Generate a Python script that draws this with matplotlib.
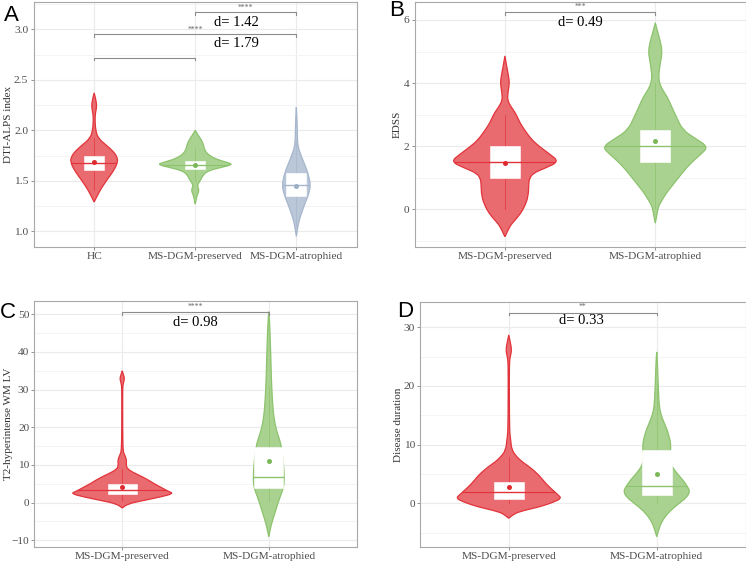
import matplotlib
matplotlib.use('Agg')
import matplotlib.pyplot as plt
import numpy as np
from matplotlib.patches import PathPatch, Rectangle
from matplotlib.path import Path

plt.rcParams['font.family'] = ['Liberation Serif', 'DejaVu Serif']

# ---------------- data ----------------
groups_A = ['HC', 'MS-DGM-preserved', 'MS-DGM-atrophied']
groups_2 = ['MS-DGM-preserved', 'MS-DGM-atrophied']

# Panel A: DTI-ALPS index violins (y levels, half-widths)
A_hc_y = [2.37, 2.31, 2.24, 2.17, 2.10, 2.00, 1.92, 1.85, 1.79, 1.74, 1.69, 1.61, 1.51, 1.41, 1.33, 1.29]
A_hc_w = [0, .015, .027, .012, .008, .015, .04, .124, .19, .225, .235, .2, .127, .06, .02, 0]
A_pr_y = [2.00, 1.95, 1.90, 1.85, 1.80, 1.75, 1.71, 1.68, 1.66, 1.63, 1.60, 1.56, 1.51, 1.46, 1.43, 1.40, 1.36, 1.32, 1.27]
A_pr_w = [0, .03, .064, .084, .094, .139, .218, .325, .37, .245, .129, .079, .055, .02, .03, .037, .02, .01, 0]
A_at_y = [2.23, 2.10, 1.95, 1.84, 1.74, 1.61, 1.53, 1.46, 1.38, 1.31, 1.18, 1.08, 0.95]
A_at_w = [0, .007, .01, .015, .05, .104, .126, .14, .126, .099, .05, .02, 0]
A_q1 = [1.61, 1.62, 1.353]
A_med = [1.68, 1.66, 1.455]
A_q3 = [1.745, 1.70, 1.58]
A_mean = [1.683, 1.66, 1.452]
A_wlo = [1.41, 1.50, 1.05]
A_whi = [1.92, 1.82, 1.90]

# Panel B: EDSS
B_pr_y = [4.86, 4.5, 4.2, 3.99, 3.7, 3.46, 3.25, 3.04, 2.75, 2.51, 2.2, 1.98, 1.75, 1.51, 1.30, 1.14, 0.95, 0.82, 0.40, 0.1, -0.13, -0.35, -0.50, -0.70, -0.87]
B_pr_w = [0, .013, .025, .03, .02, .017, .04, .072, .099, .131, .179, .232, .298, .36, .265, .185, .162, .159, .155, .132, .105, .066, .038, .017, 0]
B_at_y = [5.91, 5.6, 5.3, 5.0, 4.7, 4.3, 4.04, 3.8, 3.57, 3.25, 2.94, 2.51, 2.25, 1.98, 1.75, 1.56, 1.30, 1.03, 0.75, 0.51, 0.25, 0.08, -0.2, -0.44]
B_at_w = [0, .017, .035, .046, .036, .023, .025, .046, .079, .109, .139, .182, .265, .352, .305, .258, .205, .159, .113, .073, .04, .02, .01, 0]
B_q1 = [1.0, 1.5]
B_med = [1.5, 2.0]
B_q3 = [2.0, 2.5]
B_mean = [1.47, 2.155]
B_wlo = [0.0, 0.0]
B_whi = [3.0, 4.0]

# Panel C: T2-hyperintense WM LV
C_pr_y = [35.0, 34.0, 33.0, 32.0, 31.0, 29, 20, 14.0, 13.0, 12.0, 11.0, 10.0, 9.0, 8.0, 7.0, 6.0, 5.0, 4.0, 3.0, 2.4, 1.5, 0.5, -0.3, -1.4]
C_pr_w = [0, .008, .016, .01, .004, .003, .003, .005, .012, .024, .03, .027, .034, .075, .13, .178, .219, .267, .315, .35, .26, .137, .041, 0]
C_at_y = [50.7, 47, 43, 38.7, 34, 29.9, 26, 22.8, 19.3, 16.6, 14.9, 12, 9, 6, 4.0, 2, -0.2, -2, -3.7, -5, -6.4, -7.8, -9.0]
C_at_w = [0, .007, .01, .014, .017, .021, .027, .034, .051, .075, .086, .096, .103, .106, .101, .082, .062, .048, .034, .024, .014, .007, 0]
C_q1 = [2.3, 3.8]
C_med = [3.36, 6.9]
C_q3 = [4.95, 14.85]
C_mean = [4.25, 11.05]
C_wlo = [0.3, 0.5]
C_whi = [8.9, 31.0]

# Panel D: Disease duration
D_pr_y = [28.7, 27.5, 26.1, 25, 24.1, 22, 18, 14, 11.9, 10.8, 9.1, 7.9, 7.0, 6.2, 5.3, 4.5, 3.4, 2.27, 1.5, 0.85, 0.2, -0.58, -1.43, -2.0, -2.55]
D_pr_w = [0, .01, .02, .01, .005, .004, .004, .005, .007, .013, .02, .054, .094, .14, .182, .214, .249, .296, .33, .357, .303, .214, .067, .027, 0]
D_at_y = [25.8, 24, 22.2, 19, 16.5, 15, 13.6, 12.5, 11.35, 10.3, 9.0, 7.8, 6.8, 5.8, 4.8, 3.8, 2.8, 2.0, 1.0, 0.0, -1.2, -2.3, -3.2, -4.0, -5.7]
D_at_w = [0, .005, .007, .012, .017, .03, .052, .071, .084, .094, .094, .088, .094, .115, .148, .182, .209, .225, .202, .152, .094, .056, .034, .02, 0]
D_q1 = [0.68, 1.41]
D_med = [2.0, 2.95]
D_q3 = [3.58, 9.08]
D_mean = [2.83, 5.05]
D_wlo = [0.0, 0.0]
D_whi = [7.9, 20.5]

effect_A = ['d= 1.42', 'd= 1.79']
effect_B = 'd= 0.49'
effect_C = 'd= 0.98'
effect_D = 'd= 0.33'
sig_A = ['', '****', '****']
sig_B = '***'
sig_C = '****'
sig_D = '**'

# ---------------- style ----------------
RED = dict(fill='#E96B6F', edge='#E2333A', dot='#DF2A30')
GREEN = dict(fill='#A9D290', edge='#8CC36C', dot='#7BB757')
BLUE = dict(fill='#BAC7D8', edge='#A6B6CC', dot='#9DAFC7')
TXT = '#4D4D4D'

W, H = 746, 561
fig = plt.figure(figsize=(W / 100, H / 100), dpi=100)


def add_axes(l, t, r, b):
    return fig.add_axes([l / W, 1 - b / H, (r - l) / W, (b - t) / H])


def style(ax, xlabels, ylim, major, minor, ylabel, labx):
    n = len(xlabels)
    ax.set_xlim(0.4, n + 0.6)
    ax.set_ylim(*ylim)
    ax.set_xticks(range(1, n + 1))
    ax.set_xticklabels(xlabels)
    ax.set_yticks(major)
    ax.set_yticks(minor, minor=True)
    ax.grid(True, which='major', color='#EBEBEB', lw=0.8, zorder=0)
    ax.grid(True, which='minor', axis='y', color='#F3F3F3', lw=0.6, zorder=0)
    ax.set_axisbelow(True)
    for s in ax.spines.values():
        s.set_color('#A8A8A8')
        s.set_linewidth(0.8)
    ax.tick_params(which='major', length=2.5, width=0.6, color='#808080',
                   labelcolor=TXT, labelsize=8.2, pad=1.2)
    ax.tick_params(which='minor', length=0)
    ax.set_ylabel(ylabel, fontsize=8.0, color='#333333')
    ax.yaxis.label.set_verticalalignment('center')
    ax.yaxis.set_label_coords(labx, 0.5)


def smooth_path(verts):
    # closed quadratic-Bezier outline through the midpoints of the polygon edges
    P = np.asarray(verts)
    n = len(P)
    M = (P + np.roll(P, -1, axis=0)) / 2
    codes = [Path.MOVETO]
    pts = [M[0]]
    for k in range(1, n + 1):
        pts.append(P[k % n])
        pts.append(M[k % n])
        codes += [Path.CURVE3, Path.CURVE3]
    pts.append(M[0])
    codes.append(Path.CLOSEPOLY)
    return Path(np.array(pts), codes)


def violins(ax, ys, ws, cols, q1, med, q3, mean, wlo, whi):
    for i, (y, w, c) in enumerate(zip(ys, ws, cols)):
        x0 = i + 1
        y = np.asarray(y, float)
        w = np.asarray(w, float)
        verts = np.concatenate([np.column_stack([x0 - w, y]),
                                np.column_stack([x0 + w[::-1], y[::-1]])])
        patch = PathPatch(smooth_path(verts), facecolor=c['fill'], edgecolor=c['edge'],
                          lw=0.9, zorder=2)
        ax.add_patch(patch)
        ln, = ax.plot([x0 - 0.5, x0 + 0.5], [med[i], med[i]], color=c['edge'], lw=0.8, zorder=2.1)
        ln.set_clip_path(patch)
        ax.plot([x0, x0], [wlo[i], whi[i]], color=c['edge'], lw=0.6, alpha=0.8, zorder=2.2)
        ax.add_patch(Rectangle((x0 - 0.1, q1[i]), 0.2, q3[i] - q1[i], facecolor='white',
                               edgecolor='white', lw=0.4, zorder=3))
        ax.plot([x0 - 0.1, x0 + 0.1], [med[i], med[i]], color=c['edge'], lw=1.0, zorder=3.1)
        ax.plot(x0, mean[i], 'o', color=c['dot'], ms=3.6, mec='none', zorder=3.2)


def bracket(ax, x1, x2, y, tip, label, ly):
    ax.plot([x1, x1, x2, x2], [y - tip, y, y, y - tip], color='#8C8C8C', lw=0.8, zorder=4)
    if label:
        ax.text((x1 + x2) / 2, ly, label, ha='center', va='center', fontsize=5.5,
                color='#666666', zorder=4)


def dtext(ax, x, y, s):
    ax.text(x, y, s, ha='center', va='center', fontsize=10.5, color='black', zorder=5)


# ---------------- Panel A ----------------
axA = add_axes(33.5, 2, 357, 247)
style(axA, groups_A, (0.845, 3.27), [1.0, 1.5, 2.0, 2.5, 3.0], [1.25, 1.75, 2.25, 2.75, 3.25],
      'DTI-ALPS index', -0.078)
axA.set_yticklabels(['1.0', '1.5', '2.0', '2.5', '3.0'])
violins(axA, [A_hc_y, A_pr_y, A_at_y], [A_hc_w, A_pr_w, A_at_w], [RED, GREEN, BLUE],
        A_q1, A_med, A_q3, A_mean, A_wlo, A_whi)
bracket(axA, 1, 2, 2.72, 0.027, sig_A[0], 2.77)
bracket(axA, 1, 3, 2.95, 0.027, sig_A[1], 2.99)
bracket(axA, 2, 3, 3.17, 0.027, sig_A[2], 3.215)
dtext(axA, 2.41, 3.07, effect_A[0])
dtext(axA, 2.41, 2.86, effect_A[1])

# ---------------- Panel B ----------------
axB = add_axes(414.7, 2, 745.5, 247)
style(axB, groups_2, (-1.195, 6.57), [0, 2, 4, 6], [-1, 1, 3, 5], 'EDSS', -0.053)
violins(axB, [B_pr_y, B_at_y], [B_pr_w, B_at_w], [RED, GREEN],
        B_q1, B_med, B_q3, B_mean, B_wlo, B_whi)
bracket(axB, 1, 2, 6.24, 0.085, sig_B, 6.40)
dtext(axB, 1.5, 5.93, effect_B)

# ---------------- Panel C ----------------
axC = add_axes(34.3, 301, 356.7, 547)
style(axC, groups_2, (-11.78, 53.53), [-10, 0, 10, 20, 30, 40, 50], [-5, 5, 15, 25, 35, 45],
      'T2-hyperintense WM LV', -0.080)
violins(axC, [C_pr_y, C_at_y], [C_pr_w, C_at_w], [RED, GREEN],
        C_q1, C_med, C_q3, C_mean, C_wlo, C_whi)
bracket(axC, 1, 2, 50.5, 0.7, sig_C, 52.0)
dtext(axC, 1.5, 47.8, effect_C)

# ---------------- Panel D ----------------
axD = add_axes(420, 301.7, 745.5, 547)
style(axD, groups_2, (-7.45, 34.36), [0, 10, 20, 30], [-5, 5, 15, 25], 'Disease duration', -0.067)
violins(axD, [D_pr_y, D_at_y], [D_pr_w, D_at_w], [RED, GREEN],
        D_q1, D_med, D_q3, D_mean, D_wlo, D_whi)
bracket(axD, 1, 2, 32.5, 0.46, sig_D, 33.5)
dtext(axD, 1.49, 31.1, effect_D)

# ---------------- panel letters ----------------
for lab, x, y in [('A', 4, 21), ('B', 389, 16), ('C', 0, 318), ('D', 397, 317)]:
    fig.text(x / W, 1 - y / H, lab, fontsize=16, family=['Liberation Sans', 'DejaVu Sans'],
             ha='left', va='baseline', color='black')

fig.savefig('out.png', dpi=100)
